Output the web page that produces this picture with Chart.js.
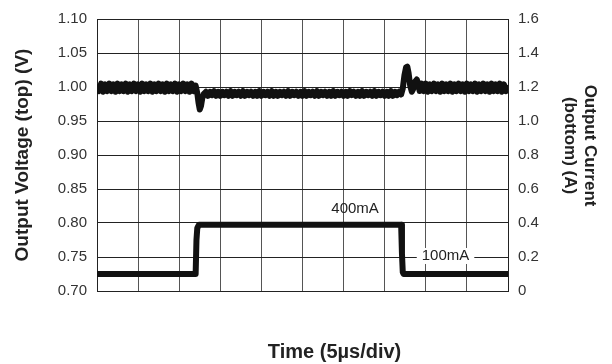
<!DOCTYPE html>
<html>
<head>
<meta charset="utf-8">
<script src="https://cdn.jsdelivr.net/npm/chart.js@4/dist/chart.umd.min.js"></script>
<style>
html,body{margin:0;padding:0;background:#fff;}
#wrap{width:612px;height:364px;position:relative;}
</style>
</head>
<body>
<div id="wrap"><canvas id="c" width="612" height="364"></canvas></div>
<script>
// Time in divisions (5 µs/div)
const voltTime = [
  0.00,0.05,0.10,0.15,0.20,0.25,0.30,0.35,0.40,0.45,0.50,0.55,0.60,0.65,0.70,0.75,0.80,0.85,0.90,0.95,
  1.00,1.05,1.10,1.15,1.20,1.25,1.30,1.35,1.40,1.45,1.50,1.55,1.60,1.65,1.70,1.75,1.80,1.85,1.90,1.95,
  2.00,2.05,2.10,2.15,2.20,2.25,2.30,2.35,2.40,
  2.44,2.47,2.50,2.53,2.56,2.60,
  2.65,2.70,2.75,2.80,2.85,2.90,2.95,
  3.00,3.05,3.10,3.15,3.20,3.25,3.30,3.35,3.40,3.45,3.50,3.55,3.60,3.65,3.70,3.75,3.80,3.85,3.90,3.95,
  4.00,4.05,4.10,4.15,4.20,4.25,4.30,4.35,4.40,4.45,4.50,4.55,4.60,4.65,4.70,4.75,4.80,4.85,4.90,4.95,
  5.00,5.05,5.10,5.15,5.20,5.25,5.30,5.35,5.40,5.45,5.50,5.55,5.60,5.65,5.70,5.75,5.80,5.85,5.90,5.95,
  6.00,6.05,6.10,6.15,6.20,6.25,6.30,6.35,6.40,6.45,6.50,6.55,6.60,6.65,6.70,6.75,6.80,6.85,6.90,6.95,
  7.00,7.05,7.10,7.15,7.20,7.25,7.30,7.35,7.40,
  7.44,7.48,7.52,7.55,7.58,7.62,7.66,7.70,7.74,7.78,7.82,
  7.85,7.90,7.95,
  8.00,8.05,8.10,8.15,8.20,8.25,8.30,8.35,8.40,8.45,8.50,8.55,8.60,8.65,8.70,8.75,8.80,8.85,8.90,8.95,
  9.00,9.05,9.10,9.15,9.20,9.25,9.30,9.35,9.40,9.45,9.50,9.55,9.60,9.65,9.70,9.75,9.80,9.85,9.90,9.95,
  10.00
];
// Output voltage (V), top trace
const voltValues = [
  1.004,0.994,1.005,0.993,1.004,0.994,1.005,0.994,1.004,0.993,1.005,0.994,1.004,0.994,1.005,0.993,1.004,0.994,1.005,0.994,
  1.004,0.993,1.005,0.994,1.004,0.994,1.005,0.993,1.004,0.994,1.005,0.994,1.004,0.993,1.005,0.994,1.004,0.994,1.005,0.993,
  1.004,0.994,1.005,0.994,1.004,0.993,1.005,0.994,1.002,
  0.991,0.977,0.967,0.972,0.983,0.990,
  0.993,0.987,0.993,0.988,0.994,0.987,0.993,
  0.987,0.993,0.988,0.993,0.987,0.994,0.987,0.993,0.988,0.993,0.987,0.994,0.987,0.993,0.988,0.993,0.987,0.993,0.987,0.994,
  0.987,0.993,0.988,0.993,0.987,0.994,0.987,0.993,0.987,0.993,0.988,0.993,0.987,0.994,0.987,0.993,0.988,0.993,0.987,0.993,
  0.987,0.994,0.987,0.993,0.988,0.993,0.987,0.994,0.987,0.993,0.988,0.993,0.987,0.993,0.987,0.994,0.987,0.993,0.988,0.993,
  0.987,0.993,0.987,0.994,0.988,0.993,0.987,0.993,0.987,0.994,0.987,0.993,0.988,0.993,0.987,0.994,0.987,0.993,0.988,0.993,
  0.987,0.993,0.987,0.994,0.987,0.993,0.988,0.993,0.989,
  0.998,1.017,1.029,1.030,1.021,1.002,0.993,0.998,1.008,1.011,1.004,
  0.994,1.005,0.994,
  1.005,0.993,1.004,0.994,1.005,0.994,1.004,0.993,1.005,0.994,1.004,0.994,1.005,0.993,1.004,0.994,1.005,0.994,1.004,0.993,
  1.005,0.994,1.004,0.994,1.005,0.993,1.004,0.994,1.005,0.994,1.004,0.993,1.005,0.994,1.004,0.994,1.005,0.993,1.004,0.994,
  1.003
];
// Output current (A), bottom trace
const currTime   = [0, 2.40, 2.42, 2.44, 2.48, 2.60, 7.40, 7.42, 7.44, 7.46, 10];
const currValues = [0.10, 0.10, 0.30, 0.37, 0.39, 0.39, 0.39, 0.22, 0.11, 0.10, 0.10];

const voltTicks = [0.70,0.75,0.80,0.85,0.90,0.95,1.00,1.05,1.10];
const currTicks = [0,0.2,0.4,0.6,0.8,1.0,1.2,1.4,1.6];

const labels = [
  {text:'400mA', x:6.28, y:0.482, bg:false},
  {text:'100mA', x:8.48, y:0.206, bg:true}
];
const xTitle = 'Time (5µs/div)';
const yTitle = 'Output Voltage (top) (V)';
const y1Title = ['Output Current    ','(bottom) (A)    '];

const FONT = 'Liberation Sans, Arial, Helvetica, sans-serif';

const annot = {
  id:'annot',
  afterDraw(chart){
    const ctx = chart.ctx, xs = chart.scales.x, ys = chart.scales.y1;
    ctx.save();
    ctx.font = '15px ' + FONT;
    ctx.textAlign = 'center';
    ctx.textBaseline = 'middle';
    labels.forEach(l=>{
      const px = xs.getPixelForValue(l.x), py = ys.getPixelForValue(l.y);
      if (l.bg){
        const w = ctx.measureText(l.text).width + 10;
        ctx.fillStyle = '#fff';
        ctx.fillRect(px - w/2, py - 8, w, 16);
      }
      ctx.fillStyle = '#222';
      ctx.fillText(l.text, px, py);
    });
    ctx.font = 'bold 20px ' + FONT;
    ctx.fillStyle = '#222';
    ctx.fillText(xTitle, xs.getPixelForValue(5.78), 352);
    ctx.restore();
  }
};

new Chart(document.getElementById('c'), {
  type:'line',
  data:{
    datasets:[
      {data: voltTime.map((t,i)=>({x:t,y:voltValues[i]})), yAxisID:'y', borderColor:'#111', borderWidth:6, pointRadius:0, tension:0, borderJoinStyle:'round', borderCapStyle:'butt'},
      {data: currTime.map((t,i)=>({x:t,y:currValues[i]})), yAxisID:'y1', borderColor:'#111', borderWidth:6, pointRadius:0, tension:0, borderJoinStyle:'round'}
    ]
  },
  options:{
    responsive:false, animation:false,
    layout:{padding:{top:19,left:0,right:0,bottom:0}},
    plugins:{legend:{display:false}, tooltip:{enabled:false}},
    scales:{
      x:{type:'linear', min:0, max:10,
        ticks:{display:false, stepSize:1},
        grid:{color:'#555', lineWidth:1, drawTicks:false},
        border:{color:'#222', width:1},
        afterFit(s){ s.height = 73; }
      },
      y:{type:'linear', position:'left', min:0.70, max:1.10,
        afterBuildTicks(s){ s.ticks = voltTicks.map(v=>({value:v})); },
        ticks:{callback:v=>Number(v).toFixed(2), color:'#333', font:{family:FONT, size:15}, padding:10},
        grid:{color:'#222', lineWidth:1, drawTicks:false},
        border:{color:'#222', width:1},
        title:{display:true, text:yTitle, color:'#222', font:{family:FONT, size:19, weight:'bold'}, padding:{top:11,bottom:0}},
        afterFit(s){ s.width = 97; }
      },
      y1:{type:'linear', position:'right', min:0, max:1.6,
        afterBuildTicks(s){ s.ticks = currTicks.map(v=>({value:v})); },
        ticks:{callback:v=>(v===0?'0':Number(v).toFixed(1)), color:'#333', font:{family:FONT, size:15}, padding:10},
        grid:{drawOnChartArea:false, drawTicks:false},
        border:{color:'#222', width:1},
        title:{display:true, text:y1Title, color:'#222', font:{family:FONT, size:17, weight:'bold'}, padding:{top:12,bottom:0}},
        afterFit(s){ s.width = 104; }
      }
    }
  },
  plugins:[annot]
});
</script>
</body>
</html>
